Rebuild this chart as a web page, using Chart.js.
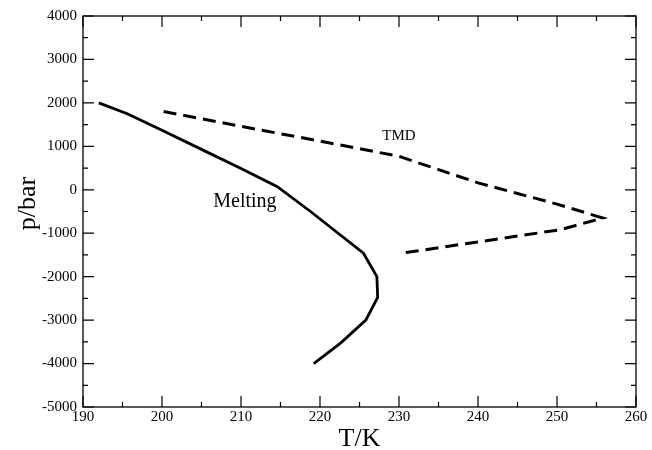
<!DOCTYPE html>
<html><head><meta charset="utf-8">
<script src="https://cdn.jsdelivr.net/npm/chart.js@4/dist/chart.umd.min.js"></script>
<style>html,body{margin:0;padding:0;background:#fff}</style>
</head><body>
<canvas id="c" width="652" height="450" style="width:652px;height:450px;display:block"></canvas>
<script>
// Melting line (T in K, p in bar)
const meltT = [192.0, 195.6, 200.0, 205.0, 210.0, 214.6, 218.8, 225.5, 227.2, 227.3, 225.8, 222.6, 219.2];
const meltP = [2000, 1750, 1370, 930, 490, 70, -500, -1460, -2000, -2480, -3000, -3530, -4000];
// TMD line
const tmdT = [200.2, 210.0, 220.0, 230.0, 240.0, 250.0, 255.8, 250.4, 240.0, 230.3];
const tmdP = [1800, 1460, 1120, 770, 160, -330, -650, -920, -1200, -1460];
// Axis ticks
const xTicks = [190, 200, 210, 220, 230, 240, 250, 260];
const yTicks = [-5000, -4000, -3000, -2000, -1000, 0, 1000, 2000, 3000, 4000];
const xMinor = [195, 205, 215, 225, 235, 245, 255];
const yMinor = [-4500, -3500, -2500, -1500, -500, 500, 1500, 2500, 3500];
const labels = [{text: 'Melting', x: 210.5, y: -400, size: 20}, {text: 'TMD', x: 230.0, y: 1140, size: 15}];
const xTitle = 'T/K', yTitle = 'p/bar';

const FONT = '"Liberation Serif", "DejaVu Serif", serif';
const toXY = (xs, ys) => xs.map((x, i) => ({x, y: ys[i]}));

const decor = {
  id: 'decor',
  afterDraw(chart) {
    const {ctx, chartArea: a, scales: {x, y}} = chart;
    ctx.save();
    ctx.strokeStyle = '#000';
    ctx.lineWidth = 1.3;
    ctx.strokeRect(a.left, a.top, a.right - a.left, a.bottom - a.top);
    ctx.lineWidth = 1.2;
    const tick = (vals, len) => {
      ctx.beginPath();
      vals.forEach(v => {
        const px = x.getPixelForValue(v);
        ctx.moveTo(px, a.bottom); ctx.lineTo(px, a.bottom - len);
        ctx.moveTo(px, a.top); ctx.lineTo(px, a.top + len);
      });
      ctx.stroke();
    };
    const ticky = (vals, len) => {
      ctx.beginPath();
      vals.forEach(v => {
        const py = y.getPixelForValue(v);
        ctx.moveTo(a.left, py); ctx.lineTo(a.left + len, py);
        ctx.moveTo(a.right, py); ctx.lineTo(a.right - len, py);
      });
      ctx.stroke();
    };
    tick(xTicks, 11); tick(xMinor, 5);
    ticky(yTicks, 11); ticky(yMinor, 5);
    ctx.fillStyle = '#000';
    ctx.textBaseline = 'alphabetic';
    ctx.textAlign = 'center';
    labels.forEach(l => {
      ctx.font = l.size + 'px ' + FONT;
      ctx.fillText(l.text, x.getPixelForValue(l.x), y.getPixelForValue(l.y));
    });
    ctx.font = '26px ' + FONT;
    ctx.fillText(xTitle, (a.left + a.right) / 2, 446);
    ctx.translate(35, (a.top + a.bottom) / 2 - 8);
    ctx.rotate(-Math.PI / 2);
    ctx.fillText(yTitle, 0, 0);
    ctx.restore();
  }
};

new Chart(document.getElementById('c'), {
  type: 'scatter',
  data: {
    datasets: [
      {label: 'Melting', data: toXY(meltT, meltP), showLine: true, borderColor: '#000', borderWidth: 2.8, pointRadius: 0, fill: false, tension: 0},
      {label: 'TMD', data: toXY(tmdT, tmdP), showLine: true, borderColor: '#000', borderWidth: 3, borderDash: [13, 7], pointRadius: 0, fill: false, tension: 0}
    ]
  },
  options: {
    responsive: false,
    animation: false,
    devicePixelRatio: 1,
    layout: {padding: {left: 0, right: 16, top: 16, bottom: 0}},
    plugins: {legend: {display: false}, tooltip: {enabled: false}},
    scales: {
      x: {
        type: 'linear', min: 190, max: 260,
        afterBuildTicks: s => { s.ticks = xTicks.map(v => ({value: v})); },
        afterFit: s => { s.height = 43; },
        ticks: {color: '#000', font: {family: FONT, size: 15}, padding: 1, maxRotation: 0, autoSkip: false, callback: v => String(v)},
        grid: {display: false, drawTicks: false},
        border: {display: false}
      },
      y: {
        type: 'linear', min: -5000, max: 4000,
        afterBuildTicks: s => { s.ticks = yTicks.map(v => ({value: v})); },
        afterFit: s => { s.width = 83; },
        ticks: {color: '#000', font: {family: FONT, size: 15}, padding: 6, autoSkip: false, callback: v => String(v)},
        grid: {display: false, drawTicks: false},
        border: {display: false}
      }
    }
  },
  plugins: [decor]
});
</script>
</body></html>
